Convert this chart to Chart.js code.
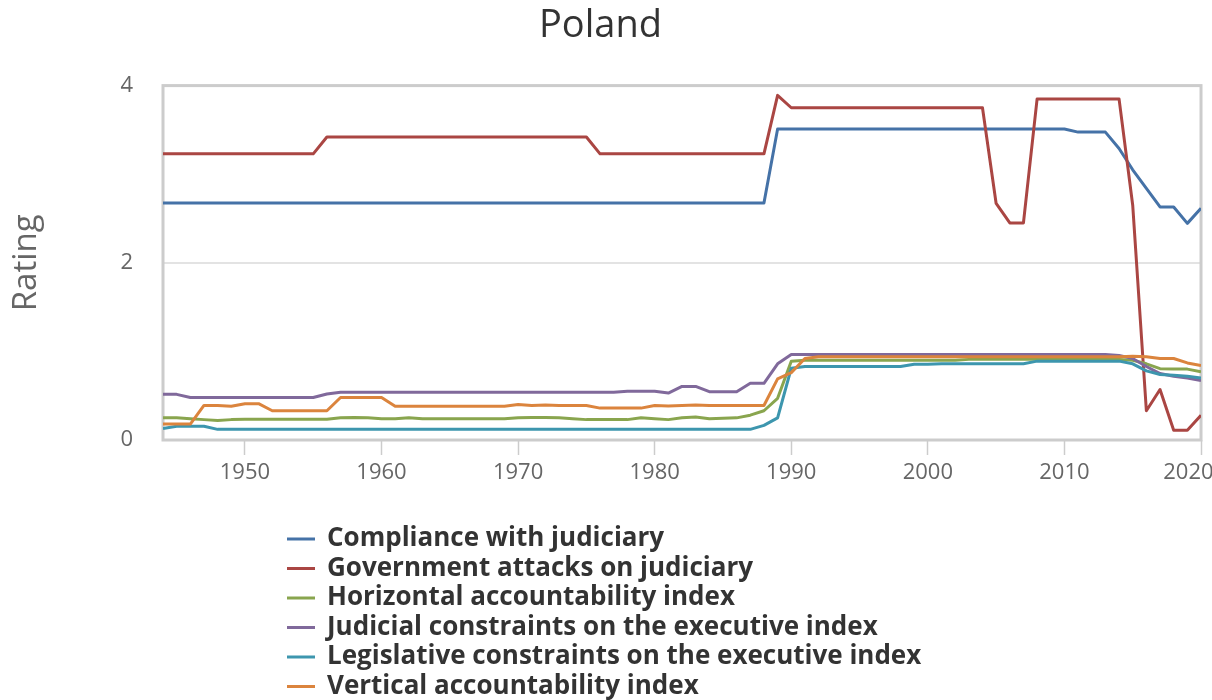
<!DOCTYPE html>
<html>
<head>
<meta charset="utf-8">
<script src="https://cdn.jsdelivr.net/npm/chart.js@4.4.1/dist/chart.umd.min.js"></script>
<style>
  html, body { margin: 0; padding: 0; background: #ffffff; }
  #wrap { width: 1212px; height: 700px; position: relative; }
</style>
</head>
<body>
<div id="wrap"><canvas id="c"></canvas></div>
<script>
const chartTitle = "Poland";
const yAxisTitle = "Rating";
const seriesNames = [
  "Compliance with judiciary",
  "Government attacks on judiciary",
  "Horizontal accountability index",
  "Judicial constraints on the executive index",
  "Legislative constraints on the executive index",
  "Vertical accountability index"
];
const seriesColors = ["#4572A7", "#AA4643", "#89A54E", "#80699B", "#3D96AE", "#DB843D"];
const xTickYears = [1950, 1960, 1970, 1980, 1990, 2000, 2010, 2020];
const yTickValues = [0, 2, 4];

const years = [
  1944,1945,1946,1947,1948,1949,1950,1951,1952,1953,
  1954,1955,1956,1957,1958,1959,1960,1961,1962,1963,
  1964,1965,1966,1967,1968,1969,1970,1971,1972,1973,
  1974,1975,1976,1977,1978,1979,1980,1981,1982,1983,
  1984,1985,1986,1987,1988,1989,1990,1991,1992,1993,
  1994,1995,1996,1997,1998,1999,2000,2001,2002,2003,
  2004,2005,2006,2007,2008,2009,2010,2011,2012,2013,
  2014,2015,2016,2017,2018,2019,2020
];

const complianceWithJudiciary = [
  2.675,2.675,2.675,2.675,2.675,2.675,2.675,2.675,2.675,2.675,
  2.675,2.675,2.675,2.675,2.675,2.675,2.675,2.675,2.675,2.675,
  2.675,2.675,2.675,2.675,2.675,2.675,2.675,2.675,2.675,2.675,
  2.675,2.675,2.675,2.675,2.675,2.675,2.675,2.675,2.675,2.675,
  2.675,2.675,2.675,2.675,2.675,3.51,3.51,3.51,3.51,3.51,
  3.51,3.51,3.51,3.51,3.51,3.51,3.51,3.51,3.51,3.51,
  3.51,3.51,3.51,3.51,3.51,3.51,3.51,3.475,3.475,3.475,
  3.29,3.05,2.84,2.63,2.63,2.445,2.615
];

const governmentAttacks = [
  3.23,3.23,3.23,3.23,3.23,3.23,3.23,3.23,3.23,3.23,
  3.23,3.23,3.42,3.42,3.42,3.42,3.42,3.42,3.42,3.42,
  3.42,3.42,3.42,3.42,3.42,3.42,3.42,3.42,3.42,3.42,
  3.42,3.42,3.23,3.23,3.23,3.23,3.23,3.23,3.23,3.23,
  3.23,3.23,3.23,3.23,3.23,3.89,3.75,3.75,3.75,3.75,
  3.75,3.75,3.75,3.75,3.75,3.75,3.75,3.75,3.75,3.75,
  3.75,2.67,2.45,2.45,3.85,3.85,3.85,3.85,3.85,3.85,
  3.85,2.65,0.33,0.57,0.11,0.11,0.28
];

const horizontalAccountability = [
  0.25,0.25,0.24,0.23,0.22,0.23,0.235,0.235,0.235,0.235,
  0.235,0.235,0.235,0.25,0.255,0.25,0.24,0.24,0.25,0.24,
  0.24,0.24,0.24,0.24,0.24,0.24,0.25,0.255,0.255,0.25,
  0.24,0.23,0.23,0.23,0.23,0.25,0.24,0.23,0.25,0.26,
  0.24,0.245,0.25,0.28,0.33,0.47,0.89,0.90,0.90,0.90,
  0.90,0.90,0.90,0.90,0.90,0.90,0.90,0.90,0.90,0.91,
  0.91,0.91,0.91,0.91,0.91,0.91,0.91,0.91,0.91,0.91,
  0.91,0.90,0.86,0.805,0.80,0.80,0.77
];

const judicialConstraints = [
  0.515,0.515,0.48,0.48,0.48,0.48,0.48,0.48,0.48,0.48,
  0.48,0.48,0.52,0.54,0.54,0.54,0.54,0.54,0.54,0.54,
  0.54,0.54,0.54,0.54,0.54,0.54,0.54,0.54,0.54,0.54,
  0.54,0.54,0.54,0.54,0.55,0.55,0.55,0.53,0.605,0.605,
  0.545,0.545,0.545,0.64,0.64,0.86,0.965,0.965,0.965,0.965,
  0.965,0.965,0.965,0.965,0.965,0.965,0.965,0.965,0.965,0.965,
  0.965,0.965,0.965,0.965,0.965,0.965,0.965,0.965,0.965,0.965,
  0.955,0.92,0.83,0.75,0.72,0.70,0.67
];

const legislativeConstraints = [
  0.13,0.155,0.155,0.155,0.12,0.12,0.12,0.12,0.12,0.12,
  0.12,0.12,0.12,0.12,0.12,0.12,0.12,0.12,0.12,0.12,
  0.12,0.12,0.12,0.12,0.12,0.12,0.12,0.12,0.12,0.12,
  0.12,0.12,0.12,0.12,0.12,0.12,0.12,0.12,0.12,0.12,
  0.12,0.12,0.12,0.12,0.165,0.25,0.81,0.83,0.83,0.83,
  0.83,0.83,0.83,0.83,0.83,0.855,0.855,0.86,0.86,0.86,
  0.86,0.86,0.86,0.86,0.89,0.89,0.89,0.89,0.89,0.89,
  0.89,0.86,0.78,0.74,0.73,0.72,0.70
];

const verticalAccountability = [
  0.18,0.18,0.18,0.39,0.39,0.38,0.41,0.41,0.33,0.33,
  0.33,0.33,0.33,0.48,0.48,0.48,0.48,0.38,0.38,0.38,
  0.38,0.38,0.38,0.38,0.38,0.38,0.40,0.39,0.395,0.39,
  0.39,0.39,0.36,0.36,0.36,0.36,0.39,0.385,0.39,0.395,
  0.39,0.39,0.39,0.39,0.39,0.69,0.76,0.92,0.94,0.94,
  0.94,0.94,0.94,0.94,0.94,0.94,0.94,0.94,0.94,0.94,
  0.94,0.94,0.94,0.94,0.94,0.94,0.94,0.94,0.94,0.94,
  0.94,0.945,0.94,0.92,0.92,0.87,0.84
];

const seriesValues = [
  complianceWithJudiciary,
  governmentAttacks,
  horizontalAccountability,
  judicialConstraints,
  legislativeConstraints,
  verticalAccountability
];

Chart.defaults.font.family = "'Open Sans', 'DejaVu Sans', sans-serif";

const datasets = seriesNames.map((name, i) => ({
  label: name,
  data: years.map((yr, k) => ({ x: yr, y: seriesValues[i][k] })),
  borderColor: seriesColors[i],
  backgroundColor: seriesColors[i],
  borderWidth: 3,
  pointRadius: 0,
  pointHoverRadius: 0,
  tension: 0,
  fill: false,
  borderJoinStyle: 'round',
  order: seriesNames.length - 1 - i
}));

const plotBorder = {
  id: 'plotBorder',
  beforeDatasetsDraw(chart) {
    const a = chart.chartArea;
    const ctx = chart.ctx;
    ctx.save();
    ctx.strokeStyle = '#cccccc';
    ctx.lineWidth = 3;
    ctx.strokeRect(a.left, a.top, a.right - a.left, a.bottom - a.top);
    ctx.restore();
  }
};

const stackedLegend = {
  id: 'stackedLegend',
  afterDraw(chart) {
    const ctx = chart.ctx;
    const top = chart.chartArea.bottom + 99;
    ctx.save();
    ctx.font = "700 26px 'Open Sans', 'DejaVu Sans', sans-serif";
    ctx.textBaseline = 'middle';
    ctx.textAlign = 'left';
    chart.data.datasets.forEach((ds, i) => {
      const y = top + i * 29.5;
      ctx.strokeStyle = ds.borderColor;
      ctx.lineWidth = 3;
      ctx.beginPath();
      ctx.moveTo(287, y);
      ctx.lineTo(315, y);
      ctx.stroke();
      ctx.fillStyle = '#333333';
      ctx.fillText(ds.label, 327, y);
    });
    ctx.restore();
  }
};

new Chart(document.getElementById('c'), {
  type: 'line',
  data: { datasets },
  plugins: [plotBorder, stackedLegend],
  options: {
    responsive: true,
    maintainAspectRatio: false,
    animation: false,
    layout: { padding: { left: 0, right: 11, top: 0, bottom: 200 } },
    plugins: {
      legend: { display: false },
      tooltip: { enabled: false },
      title: {
        display: true,
        text: chartTitle,
        color: '#333333',
        font: { size: 38, weight: 'normal' },
        padding: { top: 3, bottom: 37 }
      }
    },
    scales: {
      x: {
        type: 'linear',
        min: years[0],
        max: years[years.length - 1],
        afterBuildTicks: (s) => { s.ticks = xTickYears.map(v => ({ value: v })); },
        afterFit: (s) => { s.height = 60; s.paddingLeft = 0; s.paddingRight = 0; },
        border: { display: false },
        grid: {
          drawOnChartArea: false,
          drawTicks: true,
          tickLength: 15,
          tickColor: '#cccccc',
          tickWidth: 1.5
        },
        ticks: {
          color: '#666666',
          font: { size: 22 },
          padding: 5,
          maxRotation: 0,
          callback: (v, i, ticks) => (i === ticks.length - 1) ? String(v) + '\u2007\u2007' : String(v)
        }
      },
      y: {
        min: 0,
        max: 4,
        afterBuildTicks: (s) => { s.ticks = yTickValues.map(v => ({ value: v })); },
        afterFit: (s) => { s.width = 163; },
        border: { display: false },
        grid: {
          drawTicks: false,
          color: (c) => (c.tick && (c.tick.value === 0 || c.tick.value === 4)) ? 'rgba(0,0,0,0)' : '#e3e3e3',
          lineWidth: 2
        },
        ticks: {
          color: '#666666',
          font: { size: 22 },
          padding: 30,
          callback: (v) => String(v)
        },
        title: {
          display: true,
          text: yAxisTitle,
          color: '#666666',
          font: { size: 33 },
          padding: { top: 7, bottom: 0 }
        }
      }
    }
  }
});
</script>
</body>
</html>
